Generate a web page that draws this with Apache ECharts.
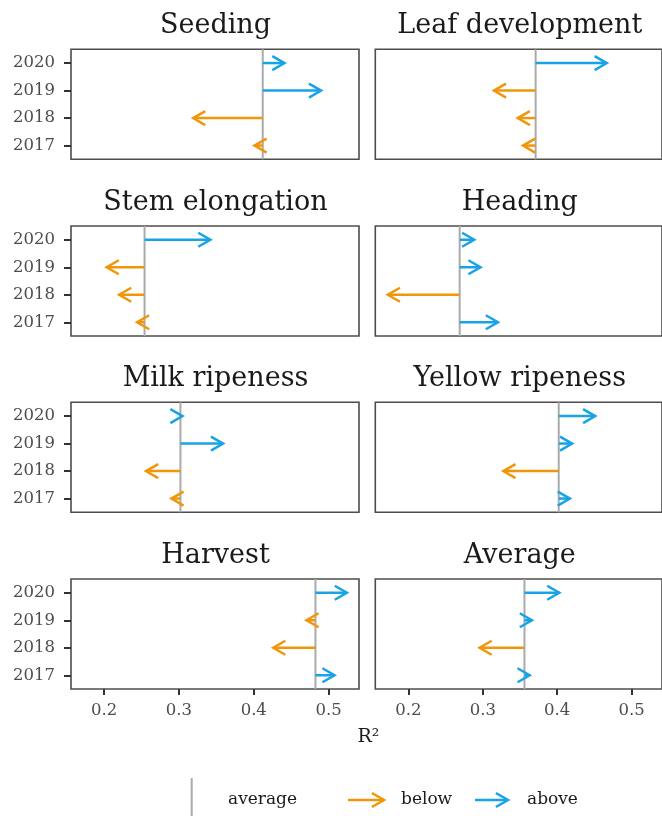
<!DOCTYPE html>
<html>
<head>
<meta charset="utf-8">
<script src="https://cdn.jsdelivr.net/npm/echarts@6/dist/echarts.min.js"></script>
<style>
  html, body { margin: 0; padding: 0; background: #fff; }
  #chart { width: 662px; height: 816px; }
</style>
</head>
<body>
<div id="chart"></div>
<script>
// data, year order 2017..2020
const years = ['2017', '2018', '2019', '2020'];
const stages = ['Seeding', 'Leaf development', 'Stem elongation', 'Heading',
  'Milk ripeness', 'Yellow ripeness', 'Harvest', 'Average'];
const averages = [0.412, 0.371, 0.254, 0.269, 0.302, 0.402, 0.4825, 0.356];

const seeding = [0.401, 0.319, 0.490, 0.441];
const leafDevelopment = [0.354, 0.347, 0.315, 0.4665];
const stemElongation = [0.244, 0.220, 0.2034, 0.342];
const heading = [0.3204, 0.1725, 0.297, 0.2885];
const milkRipeness = [0.290, 0.256, 0.359, 0.3047];
const yellowRipeness = [0.417, 0.3277, 0.420, 0.451];
const harvest = [0.508, 0.426, 0.4705, 0.5245];
const average = [0.363, 0.2957, 0.366, 0.4028];

const stageValues = [seeding, leafDevelopment, stemElongation, heading,
  milkRipeness, yellowRipeness, harvest, average];

const xTicks = [0.2, 0.3, 0.4, 0.5];
const xMin = 0.1557, xMax = 0.5407;

const ABOVE = '#18a3e6';
const BELOW = '#f0960a';
const AVG_COLOR = '#aaaaaa';
const FONT = '"DejaVu Serif", serif';

// panel layout
const colLeft = [71, 375.3];
const panelW = [288, 290.5];
const rowTop = [49.3, 226, 402.3, 579];
const panelH = 110;

const chart = echarts.init(document.getElementById('chart'), null, { renderer: 'canvas' });

function arrowShape(x0, y0, x1, y1, color) {
  const dir = x1 >= x0 ? 1 : -1;
  const L = 14, ang = Math.PI / 6;
  const dx = dir * L * Math.cos(ang), dy = L * Math.sin(ang);
  return [
    { type: 'line', shape: { x1: x0, y1: y0, x2: x1, y2: y1 },
      style: { stroke: color, lineWidth: 2.5 } },
    { type: 'polyline', shape: { points: [[x1 - dx, y1 - dy], [x1, y1], [x1 - dx, y1 + dy]] },
      style: { stroke: color, lineWidth: 2.5, fill: null, lineJoin: 'miter' } }
  ];
}

const grids = [], xAxes = [], yAxes = [], series = [], graphics = [];

stages.forEach((name, i) => {
  const row = Math.floor(i / 2), col = i % 2;
  const bottomRow = row === 3, leftCol = col === 0;

  grids.push({
    left: colLeft[col], top: rowTop[row], width: panelW[col], height: panelH,
    show: true, borderColor: '#4d4d4d', borderWidth: 1.6, backgroundColor: '#fff'
  });

  xAxes.push({
    type: 'value', gridIndex: i, min: xMin, max: xMax,
    axisLine: { show: false },
    splitLine: { show: false },
    axisTick: { show: bottomRow, customValues: xTicks, length: 6, lineStyle: { color: '#333', width: 2 } },
    axisLabel: {
      show: bottomRow, customValues: xTicks, formatter: v => v.toFixed(1),
      color: '#4d4d4d', fontFamily: FONT, fontSize: 16.5, margin: 13
    }
  });

  yAxes.push({
    type: 'category', gridIndex: i, data: years,
    axisLine: { show: false },
    splitLine: { show: false },
    axisTick: { show: leftCol, alignWithLabel: true, length: 7, lineStyle: { color: '#333', width: 2 } },
    axisLabel: { show: leftCol, color: '#4d4d4d', fontFamily: FONT, fontSize: 16.5, margin: 16 }
  });

  // average reference line
  series.push({
    type: 'custom', xAxisIndex: i, yAxisIndex: i, silent: true, z: 2,
    data: [[averages[i], 0]],
    renderItem: (params, api) => {
      const x = api.coord([api.value(0), 0])[0];
      const cs = params.coordSys;
      return {
        type: 'line', shape: { x1: x, y1: cs.y, x2: x, y2: cs.y + cs.height },
        style: { stroke: AVG_COLOR, lineWidth: 2 }
      };
    }
  });

  // arrows from the average to each year's value
  series.push({
    type: 'custom', xAxisIndex: i, yAxisIndex: i, silent: true, z: 3,
    data: stageValues[i].map((v, j) => [v, j, averages[i]]),
    encode: { x: [0, 2], y: 1 },
    renderItem: (params, api) => {
      const v = api.value(0), a = api.value(2), yi = api.value(1);
      const tip = api.coord([v, yi]);
      const base = api.coord([a, yi]);
      const color = v >= a ? ABOVE : BELOW;
      return { type: 'group', children: arrowShape(base[0], base[1], tip[0], tip[1], color) };
    }
  });

  graphics.push({
    type: 'text', x: colLeft[col] + 144.5, y: rowTop[row] - 23,
    style: { text: name, fill: '#1a1a1a', font: '27px ' + FONT, textAlign: 'center', textVerticalAlign: 'middle' }
  });
});

// axis title
graphics.push({
  type: 'text', x: 368.5, y: 737,
  style: { text: 'R²', fill: '#1a1a1a', font: '19px ' + FONT, textAlign: 'center', textVerticalAlign: 'middle' }
});

// legend
const legendY = 800;
graphics.push({ type: 'line', shape: { x1: 191.7, y1: 778, x2: 191.7, y2: 822 }, style: { stroke: AVG_COLOR, lineWidth: 2 } });
graphics.push({ type: 'text', x: 228, y: legendY, style: { text: 'average', fill: '#1a1a1a', font: '17px ' + FONT, textVerticalAlign: 'middle' } });
graphics.push({ type: 'group', children: arrowShape(348, legendY, 384, legendY, BELOW) });
graphics.push({ type: 'text', x: 401, y: legendY, style: { text: 'below', fill: '#1a1a1a', font: '17px ' + FONT, textVerticalAlign: 'middle' } });
graphics.push({ type: 'group', children: arrowShape(475, legendY, 508, legendY, ABOVE) });
graphics.push({ type: 'text', x: 527, y: legendY, style: { text: 'above', fill: '#1a1a1a', font: '17px ' + FONT, textVerticalAlign: 'middle' } });

chart.setOption({
  animation: false,
  backgroundColor: '#fff',
  grid: grids,
  xAxis: xAxes,
  yAxis: yAxes,
  series: series,
  graphic: graphics
});
</script>
</body>
</html>
